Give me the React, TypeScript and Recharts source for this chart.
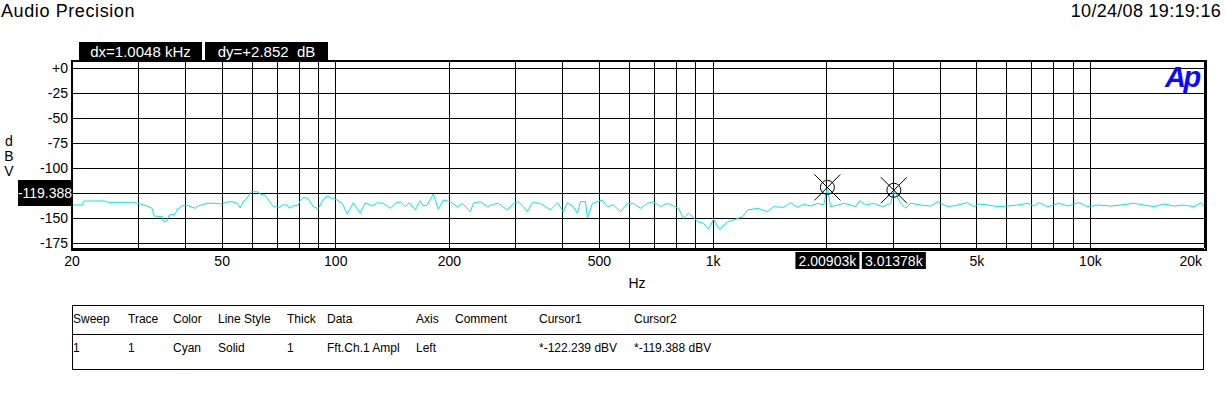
import React from 'react';
import { LineChart, Line, XAxis, YAxis, CartesianGrid, ReferenceDot } from 'recharts';

// ---- data ----
const freqs: number[] = [
  20, 21.3, 21.5, 24.5, 25, 28.9, 29.9, 31.6, 32.6, 33.0, 34.7, 34.9, 35.7, 36.2, 37.5, 38.0, 39.4, 40.4,
  42.4, 43.2, 45.6, 47.9, 50.0, 51.5, 53.1, 54.8, 55.8, 56.8, 58.2, 59.7, 61.9, 63.1, 65.0, 68.3, 71.2,
  72.1, 74.4, 75.3, 77.1, 79.5, 80.5, 82.0, 84.5, 87.2, 89.9, 92.7, 94.9, 97.9, 100.3, 104, 107.3, 111.3,
  116.1, 119.7, 125, 128.8, 133.6, 139.5, 143.8, 148.3, 152.9, 156.6, 162.5, 167.5, 170.6, 174.8, 181.4,
  187, 192.8, 201.2, 210, 216.5, 227.4, 231.6, 241.7, 252.3, 261.7, 269.8, 285, 295.7, 304.8, 314.3, 322,
  332, 348.6, 370.6, 386.8, 401.2, 411.1, 426.5, 437, 445.1, 458.9, 464.5, 479, 509.1, 524.9, 544.5, 568.4,
  593.2, 615.4, 642.2, 670.2, 695.2, 725.6, 757.3, 785.7, 809.9, 835.1, 861.1, 909.6, 943.6, 972.8, 1003,
  1040, 1093, 1133, 1197, 1234, 1312, 1395, 1447, 1538, 1605, 1675, 1738, 1814, 1893, 1964, 2009, 2049,
  2139, 2219, 2316, 2388, 2447, 2538, 2665, 2816, 2957, 3014, 3143, 3240, 3341, 3551, 3774, 3939, 4188,
  4452, 4732, 4908, 5061, 5348, 5684, 6040, 6420, 6826, 7080, 7300, 7714, 8250, 8716, 9322, 9848, 10468,
  11334, 12046, 13042, 13862, 14740, 15666, 16652, 17700, 18816, 19636, 20000,
];
const levels: number[] = [
  -137, -137, -133, -133, -134.3, -134.3, -135.3, -138, -140.3, -148, -148.7, -153.3, -153.3, -147, -146.3, -141.3, -137.3, -137.3,
  -140.3, -138, -135.3, -135.3, -136, -134, -133.7, -135.3, -140, -133.7, -130.3, -123.7, -123.7, -126, -127.3, -138.7, -139.3,
  -137, -137, -140.3, -138, -137, -132.7, -129.3, -130.7, -138.7, -140.7, -131.3, -128, -130.7, -131.3, -135.3, -146, -134.7,
  -145.3, -134.7, -138, -134.7, -135.3, -140.3, -135.3, -133.7, -138.7, -134.7, -142, -132.7, -138, -137, -126,
  -141.3, -132, -133.7, -139, -135.3, -143.7, -135.3, -133.7, -138.7, -136.3, -135.3, -142, -135.3, -133.7, -138.7, -143.7,
  -134.7, -135.3, -142, -134.7, -143.7, -134.7, -138.7, -145.3, -133.7, -133.7, -149.7, -135.3, -132, -138.7, -137, -143.7,
  -135.3, -135.3, -140.3, -135.3, -133.7, -138.7, -135.3, -138, -140.3, -150.3, -145.3, -153.7, -155.3, -161.3, -151.3,
  -161.3, -153.7, -152, -148.7, -142, -140.3, -143.7, -138.7, -139.3, -134.7, -139.3, -136.3, -138, -135.3, -137, -119.4, -138.7,
  -137, -135.3, -137, -138.7, -132.7, -137, -135.3, -138.7, -135.3, -122.2, -135.3, -140.3, -135.3, -137, -138, -133.7, -138.7,
  -137, -134.7, -138.7, -136, -137, -138.7, -138, -137, -135.3, -138, -134.7, -138.7, -135.3, -138, -134.7, -138.7, -137,
  -138, -137, -135.3, -137, -138.7, -136, -138, -137, -138.7, -134.7, -138.7,
];
const xGridTicks: number[] = [
  20, 30, 40, 50, 60, 70, 80, 90, 100, 200, 300, 400, 500, 600, 700, 800, 900,
  1000, 2000, 3000, 4000, 5000, 6000, 7000, 8000, 9000, 10000, 20000,
];
// labels visible in the picture (the 2k label is covered by the cursor readout)
const xLabelled: number[] = [20, 50, 100, 200, 500, 1000, 5000, 10000, 20000];
const yTicks: number[] = [0, -25, -50, -75, -100, -125, -150, -175];
// the -125 label is covered by the cursor readout box
const yHiddenLabels: number[] = [-125];
const yMinorTicks: number[] = [
  5, 0, -5, -10, -15, -20, -25, -30, -35, -40, -45, -50, -55, -60, -65, -70, -75, -80, -85, -90, -95, -100,
  -105, -110, -115, -120, -125, -130, -135, -140, -145, -150, -155, -160, -165, -170, -175, -180,
];
const cursorFreqs: number[] = [2009.03, 3013.78];
const cursorLevels: number[] = [-119.388, -122.239];
const cursorLabels: string[] = ['2.00903k', '3.01378k'];
const tableHeaders: string[] = ['Sweep', 'Trace', 'Color', 'Line Style', 'Thick', 'Data', 'Axis', 'Comment', 'Cursor1', 'Cursor2'];
const tableRow: string[] = ['1', '1', 'Cyan', 'Solid', '1', 'Fft.Ch.1 Ampl', 'Left', '', '*-122.239 dBV', '*-119.388 dBV'];

const data = freqs.map((f, i) => ({ f, db: levels[i] }));

// ---- layout ----
const W = 1226;
const H = 396;
const PLOT_L = 72;
const PLOT_R = 1204;
const PLOT_T = 61;
const PLOT_B = 248;
const Y_AXIS_W = 50;
const X_AXIS_H = 30;
const NARROW = "'Liberation Sans Narrow', 'Arial Narrow', 'Liberation Sans', Arial, sans-serif";
const SANS = "'Liberation Sans', Arial, sans-serif";
const colX: number[] = [73, 128, 173, 218, 287, 327, 416, 455, 539, 634];

const fmtX = (v: number) => {
  if (!xLabelled.includes(v)) return '';
  return v >= 1000 ? `${v / 1000}k` : String(v);
};

const XTick = (props: any) => {
  const { x, y, payload } = props;
  const label = fmtX(payload.value);
  if (!label) return <g />;
  const anchor = payload.value === 20000 ? 'end' : 'middle';
  const dx = payload.value === 20000 ? -2 : 0;
  return (
    <text x={x + dx} y={y} dy="0.71em" textAnchor={anchor} fontFamily={NARROW} fontSize={14} fill="#000">
      {label}
    </text>
  );
};

const CursorShape = (props: any) => {
  const { cx, cy, label } = props;
  return (
    <g>
      <circle cx={cx} cy={cy} r={7} fill="none" stroke="#000" strokeWidth={1} />
      <line x1={cx - 13} y1={cy - 13} x2={cx + 13} y2={cy + 13} stroke="#000" strokeWidth={1} />
      <line x1={cx + 13} y1={cy - 13} x2={cx - 13} y2={cy + 13} stroke="#000" strokeWidth={1} />
      <rect x={cx - 32} y={252} width={64} height={17} fill="#000" />
      <text x={cx} y={261} dy="0.35em" textAnchor="middle" fill="#fff" fontFamily={NARROW} fontSize={14}>
        {label}
      </text>
    </g>
  );
};

const boxStyle: React.CSSProperties = {
  position: 'absolute',
  background: '#000',
  color: '#fff',
  fontFamily: NARROW,
  fontSize: 15,
  display: 'flex',
  alignItems: 'center',
  justifyContent: 'center',
  whiteSpace: 'pre',
  lineHeight: 1,
};

export default function App() {
  return (
    <div style={{ position: 'absolute', left: 0, top: 0, width: W, height: H, background: '#fff', overflow: 'hidden' }}>
      <LineChart
        width={W}
        height={H}
        data={data}
        margin={{ left: PLOT_L - Y_AXIS_W, right: W - PLOT_R, top: PLOT_T, bottom: H - PLOT_B - X_AXIS_H }}
      >
        <CartesianGrid stroke="#000" strokeWidth={1} fill="none" shapeRendering="crispEdges" />
        <XAxis
          dataKey="f"
          type="number"
          scale="log"
          domain={[20, 20000]}
          allowDataOverflow
          ticks={xGridTicks}
          interval={0}
          height={X_AXIS_H}
          tickSize={0}
          tickMargin={8}
          axisLine={false}
          tickLine={false}
          tick={<XTick />}
        />
        <YAxis
          type="number"
          domain={[-180, 7]}
          allowDataOverflow
          ticks={yTicks}
          interval={0}
          width={Y_AXIS_W}
          tickSize={0}
          tickMargin={4}
          axisLine={false}
          tickLine={false}
          tickFormatter={(v: number) => (yHiddenLabels.includes(v) ? '' : v === 0 ? '+0' : String(v))}
          tick={{ fontFamily: NARROW, fontSize: 14, fill: '#000' }}
        />
        <YAxis
          yAxisId="minor"
          type="number"
          domain={[-180, 7]}
          allowDataOverflow
          ticks={yMinorTicks}
          interval={0}
          width={0}
          mirror
          tickSize={5}
          axisLine={false}
          tickLine={{ stroke: '#000', strokeWidth: 1, shapeRendering: 'crispEdges' }}
          tick={false}
        />
        <Line
          type="linear"
          dataKey="db"
          stroke="#00e8f0"
          strokeWidth={1}
          dot={false}
          isAnimationActive={false}
        />
        {cursorFreqs.map((f, i) => (
          <ReferenceDot
            key={i}
            x={f}
            y={cursorLevels[i]}
            r={7}
            ifOverflow="visible"
            shape={(p: any) => <CursorShape {...p} label={cursorLabels[i]} />}
          />
        ))}
      </LineChart>

      {/* plot frame */}
      <div
        style={{
          position: 'absolute',
          left: PLOT_L - 1,
          top: PLOT_T - 1,
          width: PLOT_R - PLOT_L,
          height: PLOT_B - PLOT_T,
          border: '2px solid #000',
          pointerEvents: 'none',
        }}
      />

      {/* header texts */}
      <div style={{ position: 'absolute', left: 1, top: 2, fontFamily: SANS, fontSize: 18, letterSpacing: 0.6, lineHeight: 1, color: '#000' }}>
        Audio Precision
      </div>
      <div style={{ position: 'absolute', right: 5, top: 2, fontFamily: SANS, fontSize: 18, letterSpacing: 0.3, lineHeight: 1, color: '#000' }}>
        10/24/08 19:19:16
      </div>

      <div style={{ ...boxStyle, left: 79, top: 42, width: 123, height: 19 }}>dx=1.0048 kHz</div>
      <div style={{ ...boxStyle, left: 205, top: 42, width: 123, height: 19 }}>{'dy=+2.852  dB'}</div>
      <div style={{ ...boxStyle, left: 18, top: 180, width: 54, height: 26, fontSize: 14 }}>-119.388</div>

      {/* axis unit labels */}
      <div style={{ position: 'absolute', left: 3, top: 134, width: 12, fontFamily: NARROW, fontSize: 14, lineHeight: '15px', textAlign: 'center' }}>
        d<br />B<br />V
      </div>
      <div style={{ position: 'absolute', left: 617, top: 276, width: 40, fontFamily: NARROW, fontSize: 14, lineHeight: 1, textAlign: 'center' }}>
        Hz
      </div>

      {/* Ap logo */}
      <div
        style={{
          position: 'absolute',
          left: 1165,
          top: 63,
          fontFamily: SANS,
          fontSize: 29,
          fontWeight: 'bold',
          fontStyle: 'italic',
          color: '#0a0aff',
          letterSpacing: -2.5,
          lineHeight: 1,
        }}
      >
        Ap
      </div>

      {/* legend table */}
      <div
        style={{
          position: 'absolute',
          left: 72,
          top: 305,
          width: 1132,
          height: 65,
          border: '1px solid #000',
          boxSizing: 'border-box',
        }}
      />
      <div style={{ position: 'absolute', left: 72, top: 334, width: 1132, height: 1, background: '#000' }} />
      {tableHeaders.map((h, i) => (
        <div key={'h' + i} style={{ position: 'absolute', left: colX[i], top: 313, fontFamily: SANS, fontSize: 12, lineHeight: 1, whiteSpace: 'pre' }}>
          {h}
        </div>
      ))}
      {tableRow.map((h, i) => (
        <div key={'r' + i} style={{ position: 'absolute', left: colX[i], top: 342, fontFamily: SANS, fontSize: 12, lineHeight: 1, whiteSpace: 'pre' }}>
          {h}
        </div>
      ))}
    </div>
  );
}
